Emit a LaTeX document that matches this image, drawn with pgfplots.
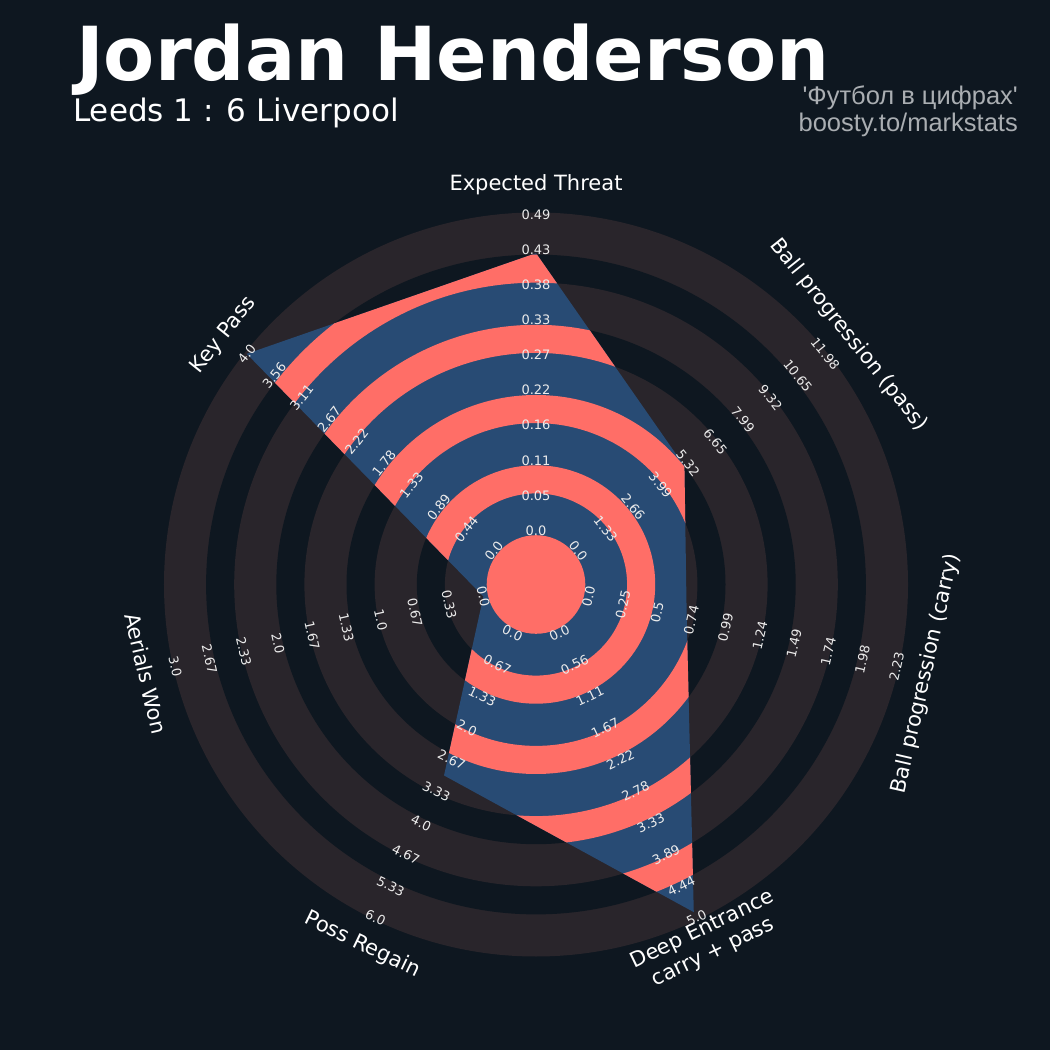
\documentclass[border=0pt]{standalone}
\usepackage{pgfplots}
\pgfplotsset{compat=1.18}
\usepackage{pgfplotstable}
\usepackage{fontspec}
\setmainfont{DejaVu Sans}
\newfontfamily\lib{Liberation Sans}
\definecolor{bg}{HTML}{0E1720}
\definecolor{ringc}{HTML}{29252B}
\definecolor{salmon}{HTML}{FF6E67}
\definecolor{rblue}{HTML}{284B74}
\definecolor{subgrey}{HTML}{AAAEB2}

% angle of axis, player value, max of range
\pgfplotstableread{
ang v vmax
90 0.43 0.49
38.571 5.15 11.98
-12.857 0.71 2.23
-64.286 4.9 5
-115.714 3.0 6
-167.143 0 3
141.429 4.0 4
}\radar

\begin{document}
\begin{tikzpicture}
\begin{axis}[x=1bp,y=1bp,xmin=0,xmax=1050,ymin=0,ymax=1050,hide axis,clip=false]
\fill[bg] (axis cs:0,0) rectangle (axis cs:1050,1050);
\coordinate (o) at (axis cs:0,0);
\coordinate (c) at (axis cs:536,465.5);
\fill[ringc] (axis cs:536,465.5) circle[radius=372bp];
\fill[bg] (axis cs:536,465.5) circle[radius=329.9bp];
\fill[ringc] (axis cs:536,465.5) circle[radius=301.8bp];
\fill[bg] (axis cs:536,465.5) circle[radius=259.7bp];
\fill[ringc] (axis cs:536,465.5) circle[radius=231.6bp];
\fill[bg] (axis cs:536,465.5) circle[radius=189.5bp];
\fill[ringc] (axis cs:536,465.5) circle[radius=161.4bp];
\fill[bg] (axis cs:536,465.5) circle[radius=119.2bp];
\fill[ringc] (axis cs:536,465.5) circle[radius=91.1bp];
\addplot[draw=none, fill=rblue] table[x expr={536+(54+316*\thisrow{v}/\thisrow{vmax})*cos(\thisrow{ang})},
         y expr={465.5+(54+316*\thisrow{v}/\thisrow{vmax})*sin(\thisrow{ang})}] {\radar} -- cycle;
\end{axis}

% salmon stripes inside the radar polygon (clip built from the same table)
\pgfplotstablegetrowsof{\radar}\pgfmathtruncatemacro\nrows{\pgfplotsretval-1}
\gdef\clippath{}
\foreach \k in {0,...,\nrows} {
  \pgfplotstablegetelem{\k}{ang}\of\radar \let\A\pgfplotsretval
  \pgfplotstablegetelem{\k}{v}\of\radar \let\V\pgfplotsretval
  \pgfplotstablegetelem{\k}{vmax}\of\radar \let\M\pgfplotsretval
  \pgfmathsetmacro\R{54+316*\V/\M}
  \xdef\clippath{\clippath ([shift={(\A:\R bp)}]c) -- }
}
\begin{scope}
\edef\x{\noexpand\clip \clippath cycle;}\x
\fill[salmon, even odd rule] (c) circle[radius=329.9bp] circle[radius=301.8bp] circle[radius=259.7bp] circle[radius=231.6bp] circle[radius=189.5bp] circle[radius=161.4bp] circle[radius=119.2bp] circle[radius=91.1bp];
\end{scope}
\fill[salmon] (c) circle[radius=49.3bp];

% titles
\node[anchor=base west, inner sep=0, text=white, font=\bfseries\fontsize{74.5bp}{80bp}\selectfont] at ([shift={(76bp,969bp)}]o) {Jordan Henderson};
\node[anchor=base west, inner sep=0, text=white, font=\fontsize{31bp}{36bp}\selectfont] at ([shift={(73bp,928bp)}]o) {Leeds 1 : 6 Liverpool};
\node[anchor=base east, inner sep=0, text=subgrey, font=\lib\fontsize{25.5bp}{30bp}\selectfont] at ([shift={(1018bp,945bp)}]o) {'Футбол в цифрах'};
\node[anchor=base east, inner sep=0, text=subgrey, font=\lib\fontsize{25.5bp}{30bp}\selectfont] at ([shift={(1018bp,918bp)}]o) {boosty.to/markstats};

% parameter labels
\foreach \a/\r/\t in {90/0/Expected Threat, 38.571/-51.429/Ball progression (pass), -12.857/77.143/Ball progression (carry), -115.714/-25.714/Poss Regain, -167.143/-77.143/Aerials Won, 141.429/51.429/Key Pass}
  \node[rotate=\r, inner sep=0, text=white, font=\fontsize{21bp}{25bp}\selectfont] at ([shift={(\a:400bp)}]c) {\t};
\node[rotate=25.714, inner sep=0, text=white, align=center, font=\fontsize{21bp}{25bp}\selectfont] at ([shift={(-64.286:396bp)}]c) {Deep Entrance\\carry + pass};

% range labels
\foreach \a/\r/\l in {
  90/0/{0.0,0.05,0.11,0.16,0.22,0.27,0.33,0.38,0.43,0.49},
  38.571/-51.429/{0.0,1.33,2.66,3.99,5.32,6.65,7.99,9.32,10.65,11.98},
  -12.857/77.143/{0.0,0.25,0.5,0.74,0.99,1.24,1.49,1.74,1.98,2.23},
  -64.286/25.714/{0.0,0.56,1.11,1.67,2.22,2.78,3.33,3.89,4.44,5.0},
  -115.714/-25.714/{0.0,0.67,1.33,2.0,2.67,3.33,4.0,4.67,5.33,6.0},
  -167.143/-77.143/{0.0,0.33,0.67,1.0,1.33,1.67,2.0,2.33,2.67,3.0},
  141.429/51.429/{0.0,0.44,0.89,1.33,1.78,2.22,2.67,3.11,3.56,4.0}}
{
  \foreach \v [count=\i from 0] in \l {
    \pgfmathsetmacro\rr{54+35.11*\i}
    \node[rotate=\r, inner sep=0, text=white!92!black, font=\fontsize{13bp}{15bp}\selectfont] at ([shift={(\a:\rr bp)}]c) {\v};
  }
}
\end{tikzpicture}
\end{document}
